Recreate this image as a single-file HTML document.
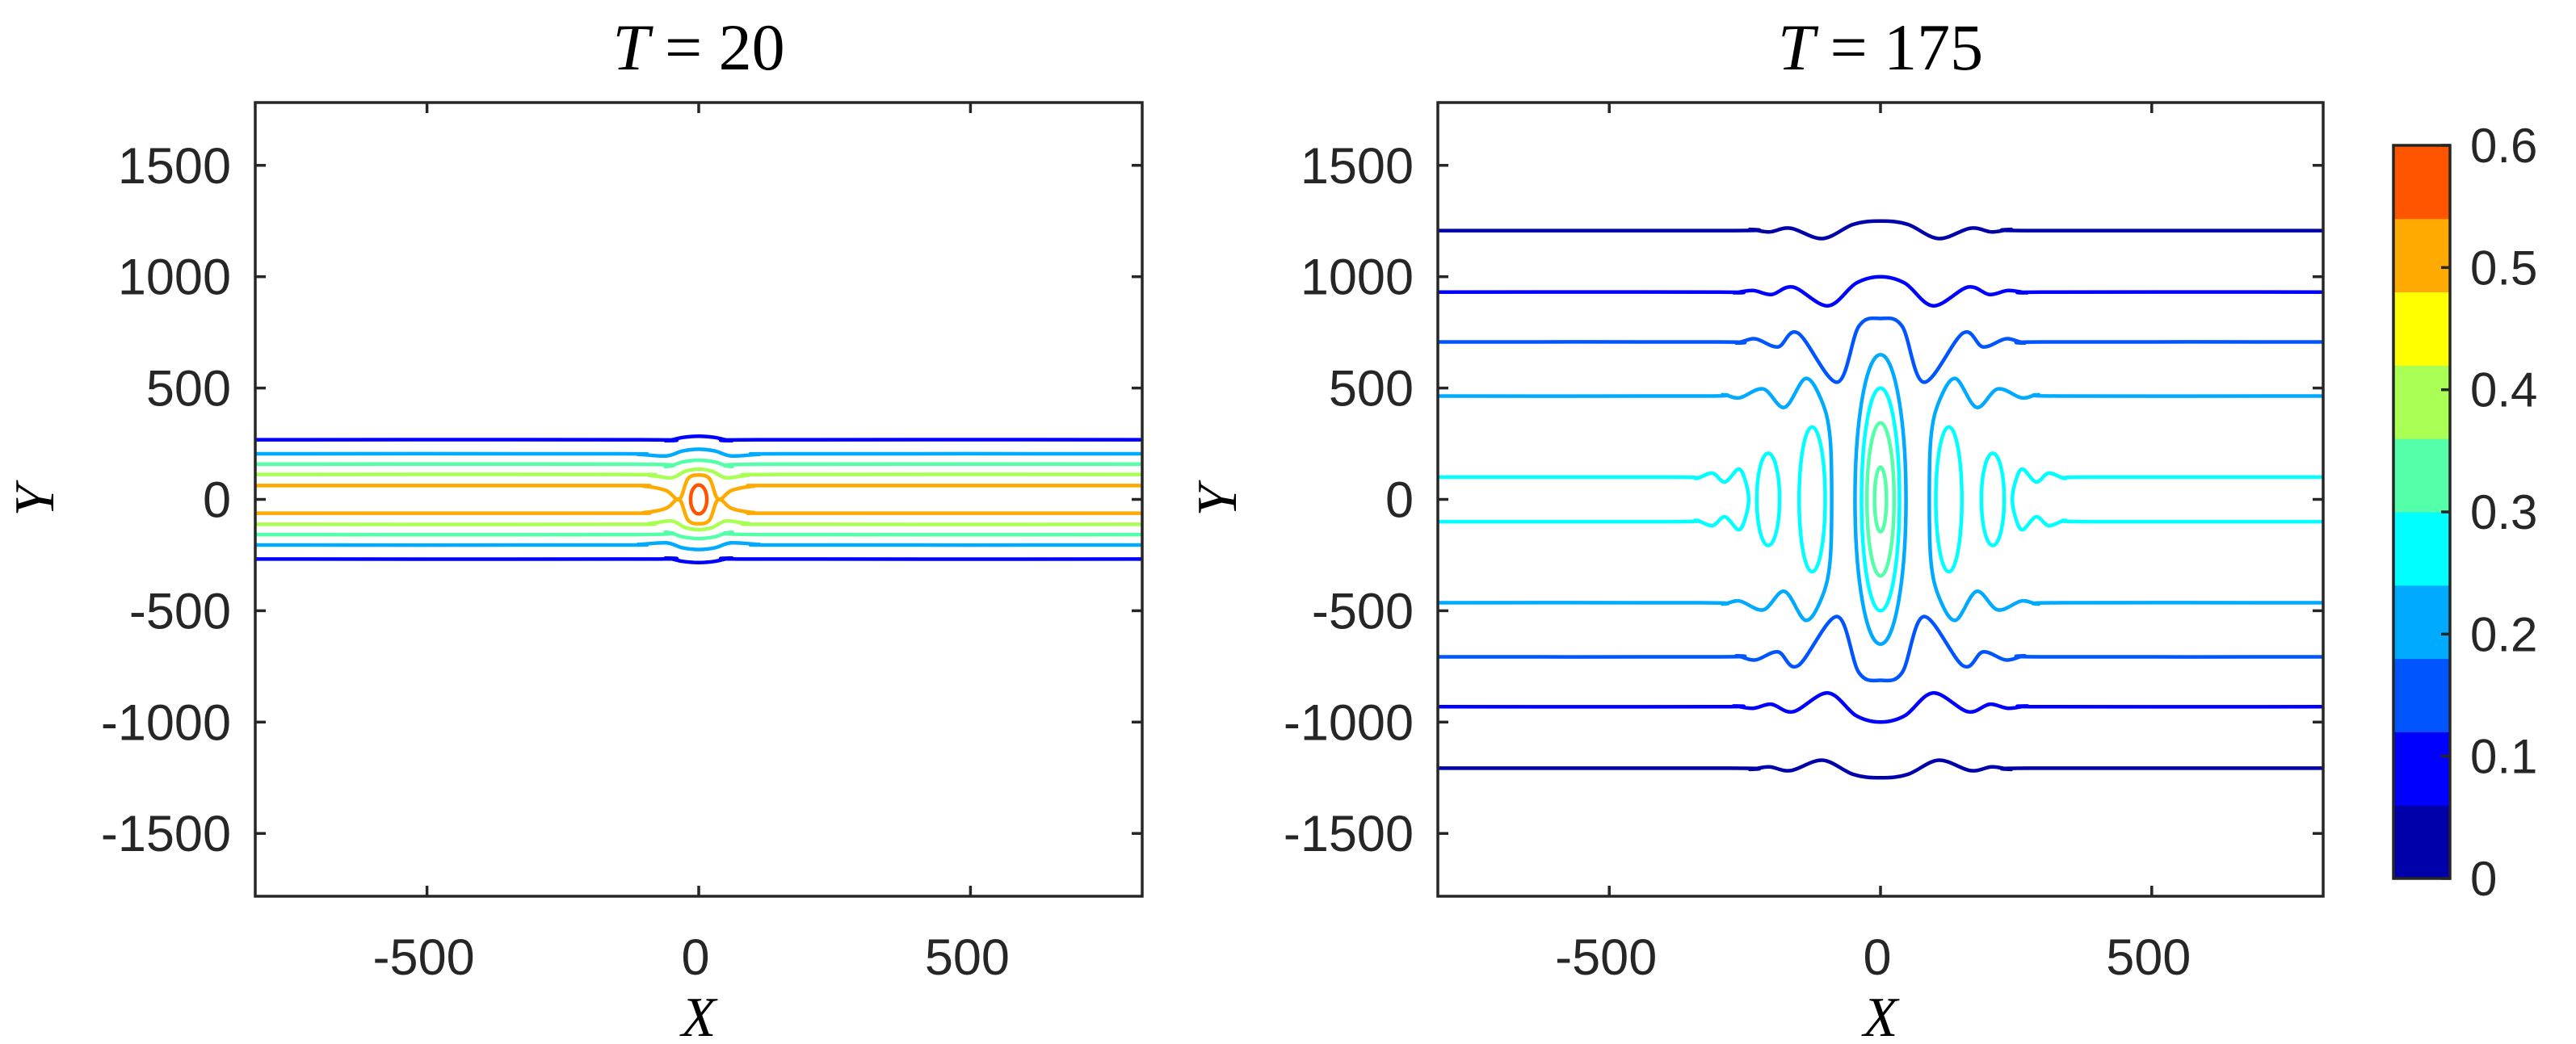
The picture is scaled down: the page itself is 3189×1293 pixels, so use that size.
<!DOCTYPE html>
<html><head><meta charset="utf-8"><style>
html,body{margin:0;padding:0;background:#fff;}
svg{display:block;}
.tick{font-family:"Liberation Sans",sans-serif;font-size:63px;fill:#262626;}
.cbt{font-family:"Liberation Sans",sans-serif;font-size:60px;fill:#262626;}
.math{font-family:"Liberation Serif",serif;font-style:italic;fill:#000;}
</style></head><body>
<svg id="fig" width="3189" height="1293" viewBox="0 0 3189 1293" xmlns="http://www.w3.org/2000/svg"></svg>
<script>
// ---------- data ----------
const xTicks = [-500, 0, 500];
const yTicks = [-1500, -1000, -500, 0, 500, 1000, 1500];
const cbTicks = [0, 0.1, 0.2, 0.3, 0.4, 0.5, 0.6];
const cbColors = ["#0000AA","#0000FF","#0055FF","#00AAFF","#00FFFF","#55FFAA","#AAFF55","#FFFF00","#FFAA00","#FF5500"];
// left panel (T=20): horizontal contours [color, baselineY, bumps [x>=0, dy]]
const leftLines = [
  ["#0000FF", 268, [[0,16],[30,10],[60,-4],[110,0]]],
  ["#00AAFF", 205, [[0,20],[30,12],[60,-10],[110,-3],[160,0]]],
  ["#55FFAA", 158, [[0,18],[30,10],[60,-10],[120,0]]],
  ["#AAFF55", 112, [[0,24],[25,14],[50,-15],[90,-4],[150,0]]],
  ["#FFAA00", 62, [[0,47],[20,30],[36,-62],[60,-22],[100,-3],[160,0]]]
];
const leftLoops = [["#FF5500", 0, 15, 65]];
// right panel (T=175)
const rightLines = [
  ["#0000AA", 1207, [[0,43],[50,28],[107,-36],[166,11],[205,-6],[240,5],[275,0]]],
  ["#0000FF", 931, [[0,69],[45,40],[97,-62],[161,22],[201,-11],[235,7],[270,-3],[300,0]]],
  ["#0055FF", 707, [[0,105],[40,70],[80,-181],[152,40],[189,-22],[231,14],[265,-4],[300,0]]]
];
// open C-shaped contours: upper-left path points, mirrored in x and y
const rightCurves = [
  ["#00AAFF", [[-816,464],[-330,464],[-290,470],[-260,456],[-216,496],[-177,413],[-138,543],[-108,440],[-93,280],[-90,0]]],
  ["#00FFFF", [[-816,100],[-380,100],[-340,95],[-310,118],[-287,78],[-262,136],[-250,90],[-243,0]]]
];
// closed loops [color, cx, rx, ry]
const rightLoops = [
  ["#00AAFF", 0, 47, 650],
  ["#00FFFF", 0, 35, 500],
  ["#00FFFF", 126, 24, 325],
  ["#00FFFF", 207, 21, 207],
  ["#55FFAA", 0, 25, 344],
  ["#55FFAA", 0, 11, 145]
];
// ---------- drawing ----------
const NS = "http://www.w3.org/2000/svg";
const svg = document.getElementById("fig");
function mk(tag, attrs, parent){ const e=document.createElementNS(NS,tag); for(const k in attrs) e.setAttribute(k,attrs[k]); (parent||svg).appendChild(e); return e; }
const XL=816, YL=1782, T=127, B=1110;
function makeAxes(x0,x1){ return {x:v=>x0+(v+XL)/(2*XL)*(x1-x0), y:v=>(T+B)/2 - v/(2*YL)*(B-T), x0, x1}; }
function smooth(pts, ax){
  let d="M"+ax.x(pts[0][0]).toFixed(1)+","+ax.y(pts[0][1]).toFixed(1);
  for(let i=0;i<pts.length-1;i++){
    const p0=pts[Math.max(i-1,0)],p1=pts[i],p2=pts[i+1],p3=pts[Math.min(i+2,pts.length-1)];
    const P=q=>[ax.x(q[0]),ax.y(q[1])];
    const a=P(p0),b=P(p1),c=P(p2),e=P(p3);
    const c1=[b[0]+(c[0]-a[0])/6,b[1]+(c[1]-a[1])/6], c2=[c[0]-(e[0]-b[0])/6,c[1]-(e[1]-b[1])/6];
    d+=" C"+c1.map(v=>v.toFixed(1))+" "+c2.map(v=>v.toFixed(1))+" "+c[0].toFixed(1)+","+c[1].toFixed(1);
  }
  return d;
}
function panel(id, ax, title, lines, curves, loops){
  const g=mk("g",{});
  
  
  const cp=mk("clipPath",{id:"clip-"+id},g);
  mk("rect",{x:ax.x0,y:T,width:ax.x1-ax.x0,height:B-T},cp);
  const plot=mk("g",{"clip-path":"url(#clip-"+id+")"},g);
  lines.forEach(([col,y0,bumps])=>{
    [1,-1].forEach(s=>{
      const pts=[[-XL-20,y0*s]];
      bumps.slice().reverse().forEach(([bx,dy])=>{ if(bx>0) pts.push([-bx,(y0+dy)*s]); });
      bumps.forEach(([bx,dy])=>pts.push([bx,(y0+dy)*s]));
      pts.push([XL+20,y0*s]);
      const p=mk("path",{d:smooth(pts,ax),fill:"none",stroke:col,"stroke-width":4.5},plot);
      
      
    });
  });
  curves.forEach(([col,pts])=>{
    [1,-1].forEach(sx=>{
      const full=pts.map(([x,y])=>[x*sx,y]);
      pts.slice(0,-1).reverse().forEach(([x,y])=>full.push([x*sx,-y]));
      const p=mk("path",{d:smooth(full,ax),fill:"none",stroke:col,"stroke-width":4.5},plot);
      
      
    });
  });
  loops.forEach(([col,cx,rx,ry])=>{
    (cx===0?[0]:[cx,-cx]).forEach(c=>{
      const e=mk("ellipse",{cx:ax.x(c),cy:ax.y(0),rx:rx*(ax.x1-ax.x0)/(2*XL),ry:ry*(B-T)/(2*YL),fill:"none",stroke:col,"stroke-width":4.5},plot);
      
      
    });
  });
  const box=mk("rect",{x:ax.x0,y:T,width:ax.x1-ax.x0,height:B-T,fill:"none",stroke:"#262626","stroke-width":3.5},g);
  
  
  xTicks.forEach(v=>{
    const X=ax.x(v);
    mk("line",{x1:X,x2:X,y1:B,y2:B-13,stroke:"#262626","stroke-width":3.5},g);
    mk("line",{x1:X,x2:X,y1:T,y2:T+13,stroke:"#262626","stroke-width":3.5},g);
    const t=mk("text",{x:X-4,y:1207,"text-anchor":"middle",class:"tick"},g); t.textContent=v;
    
    
  });
  yTicks.forEach(v=>{
    const Y=ax.y(v);
    mk("line",{x1:ax.x0,x2:ax.x0+13,y1:Y,y2:Y,stroke:"#262626","stroke-width":3.5},g);
    mk("line",{x1:ax.x1,x2:ax.x1-13,y1:Y,y2:Y,stroke:"#262626","stroke-width":3.5},g);
    const t=mk("text",{x:ax.x0-30,y:Y+22,"text-anchor":"end",class:"tick"},g); t.textContent=v;
    
    
  });
  const tt=mk("text",{x:(ax.x0+ax.x1)/2,y:86,"text-anchor":"middle",class:"math","font-size":82},g);
  tt.innerHTML='T <tspan font-style="normal">= '+title+'</tspan>';
  
  
  const xl=mk("text",{x:(ax.x0+ax.x1)/2,y:1283,"text-anchor":"middle",class:"math","font-size":70},g); xl.textContent="X";
  
  
  const yx=ax.x0-250;
  const yl=mk("text",{x:yx,y:620,"text-anchor":"middle",class:"math","font-size":70,transform:"rotate(-90 "+yx+" 620)"},g); yl.textContent="Y";
  
  
}
panel("left-panel", makeAxes(316,1414), "20", leftLines, [], leftLoops);
panel("right-panel", makeAxes(1780,2876), "175", rightLines, rightCurves, rightLoops);
// colorbar
const cbX=2963, cbW=70, cbT=180, cbB=1088;
const cb=mk("g",{});


const cbY=v=>cbB-v/0.6*(cbB-cbT);
cbColors.forEach((c,i)=>{
  const r=mk("rect",{x:cbX,y:cbY((i+1)*0.06),width:cbW,height:cbY(i*0.06)-cbY((i+1)*0.06)+0.5,fill:c},cb);
  
  
});
mk("rect",{x:cbX,y:cbT,width:cbW,height:cbB-cbT,fill:"none",stroke:"#262626","stroke-width":3.5},cb);
cbTicks.forEach(v=>{
  const Y=cbY(v);
  mk("line",{x1:cbX+cbW,x2:cbX+cbW-11,y1:Y,y2:Y,stroke:"#262626","stroke-width":3.5},cb);
  const t=mk("text",{x:3058,y:Y+21,class:"cbt"},cb); t.textContent=v;
  
  
});
</script>
</body></html>
